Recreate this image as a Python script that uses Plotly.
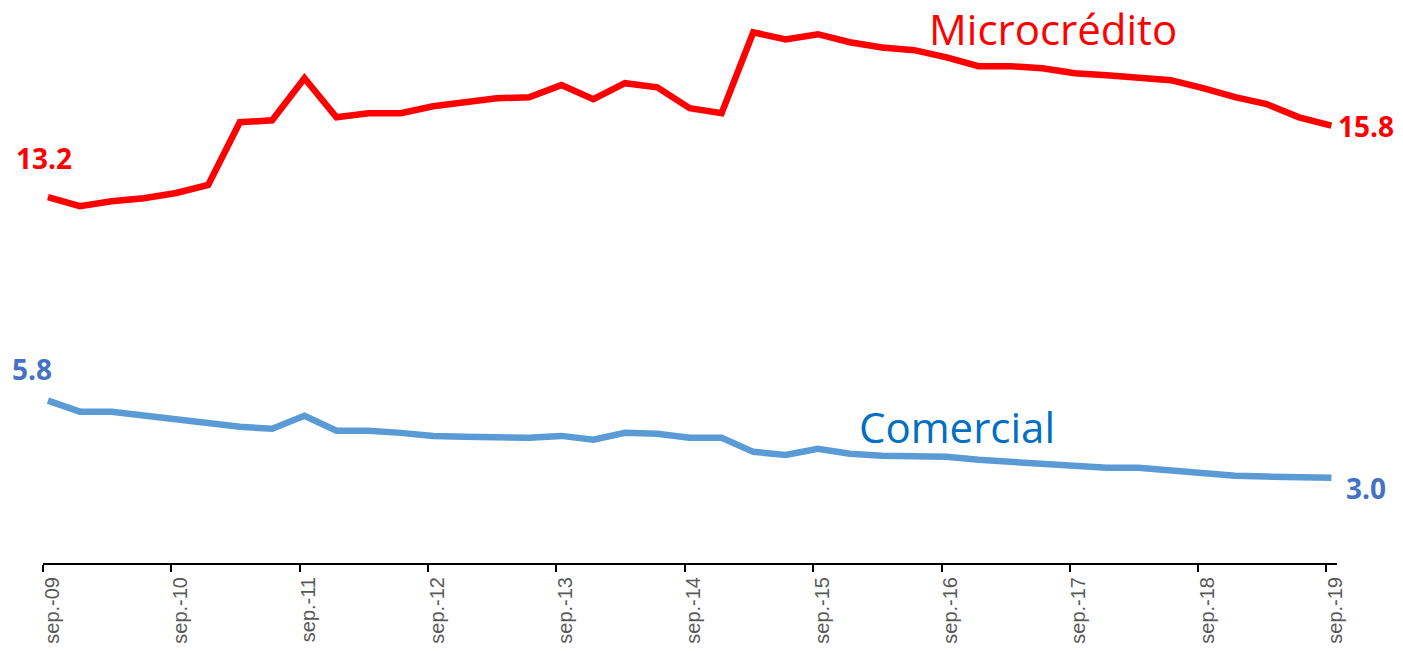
import plotly.graph_objects as go

# Quarterly dates, sep-09 ... sep-19
months = ["09", "12", "03", "06"]
dates = []
year = 2009
for i in range(41):
    m = months[i % 4]
    if m == "03":
        year += 1
    dates.append(f"{year}-{m}-15")

microcredito = [13.20, 12.87, 13.05, 13.16, 13.35, 13.64, 15.92, 15.99, 17.52, 16.10,
                16.25, 16.25, 16.50, 16.65, 16.79, 16.83, 17.27, 16.76, 17.34, 17.19,
                16.43, 16.25, 19.19, 18.93, 19.12, 18.83, 18.64, 18.54, 18.28, 17.96,
                17.96, 17.88, 17.70, 17.63, 17.56, 17.45, 17.16, 16.83, 16.58, 16.10,
                15.80]
comercial = [5.80, 5.40, 5.40, 5.25, 5.11, 4.96, 4.85, 4.78, 5.25, 4.71,
             4.71, 4.63, 4.52, 4.49, 4.49, 4.45, 4.52, 4.38, 4.63, 4.60,
             4.45, 4.45, 3.94, 3.83, 4.05, 3.87, 3.80, 3.80, 3.76, 3.65,
             3.58, 3.51, 3.40, 3.36, 3.36, 3.25, 3.15, 3.07, 3.04, 3.04,
             3.00]

tick_vals = [f"{y}-09-01" for y in range(2009, 2020)]
tick_text = [f"sep.-{y % 100:02d}" for y in range(2009, 2020)]

RED = "#FF0000"
BLUE_LINE = "#5B9BD5"
BLUE_LBL = "#4472C4"
BLUE_NAME = "#0070C0"

fig = go.Figure()
fig.add_trace(go.Scatter(x=dates, y=microcredito, mode="lines", name="Microcrédito",
                         line=dict(color=RED, width=6.5), hoverinfo="skip"))
fig.add_trace(go.Scatter(x=dates, y=comercial, mode="lines", name="Comercial",
                         line=dict(color=BLUE_LINE, width=6.5), hoverinfo="skip"))

num_font = dict(family="Open Sans", size=28)
ann = []
ann.append(dict(x=dates[0], y=microcredito[0], text=f"<b>{microcredito[0]:.1f}</b>",
                showarrow=False, xanchor="center", yanchor="middle", xshift=-4, yshift=39,
                font=dict(num_font, color=RED)))
ann.append(dict(x=dates[-1], y=microcredito[-1], text=f"<b>{microcredito[-1]:.1f}</b>",
                showarrow=False, xanchor="left", yanchor="middle", xshift=5, yshift=0,
                font=dict(num_font, color=RED)))
ann.append(dict(x=dates[0], y=comercial[0], text=f"<b>{comercial[0]:.1f}</b>",
                showarrow=False, xanchor="center", yanchor="middle", xshift=-16, yshift=32,
                font=dict(num_font, color=BLUE_LBL)))
ann.append(dict(x=dates[-1], y=comercial[-1], text=f"<b>{comercial[-1]:.1f}</b>",
                showarrow=False, xanchor="left", yanchor="middle", xshift=13, yshift=-10,
                font=dict(num_font, color=BLUE_LBL)))
ann.append(dict(xref="paper", yref="paper", x=0.7805, y=0.966, text="Microcrédito",
                showarrow=False, xanchor="center", yanchor="middle",
                font=dict(family="Open Sans", size=42, color=RED)))
ann.append(dict(xref="paper", yref="paper", x=0.7063, y=0.247, text="Comercial",
                showarrow=False, xanchor="center", yanchor="middle",
                font=dict(family="Open Sans", size=42, color=BLUE_NAME)))

# page body has an 8px margin: figure sized so it fits in the window
fig.update_layout(
    width=1395, height=643,
    margin=dict(l=35, r=66, t=2, b=88),
    paper_bgcolor="white", plot_bgcolor="white",
    showlegend=False,
    annotations=ann,
    xaxis=dict(type="date", range=["2009-09-01", "2019-10-01"],
               tickmode="array", tickvals=tick_vals, ticktext=tick_text,
               tickangle=-90, ticks="outside", ticklen=7, tickwidth=2, tickcolor="black",
               showline=True, linecolor="black", linewidth=2,
               showgrid=False, zeroline=False, ticklabelshift=9, ticklabelstandoff=-3,
               automargin=False,
               tickfont=dict(family="Liberation Sans", size=20, color="#595959")),
    yaxis=dict(range=[-0.1, 20], visible=False, showgrid=False, zeroline=False),
)

fig.write_html("out.html")
